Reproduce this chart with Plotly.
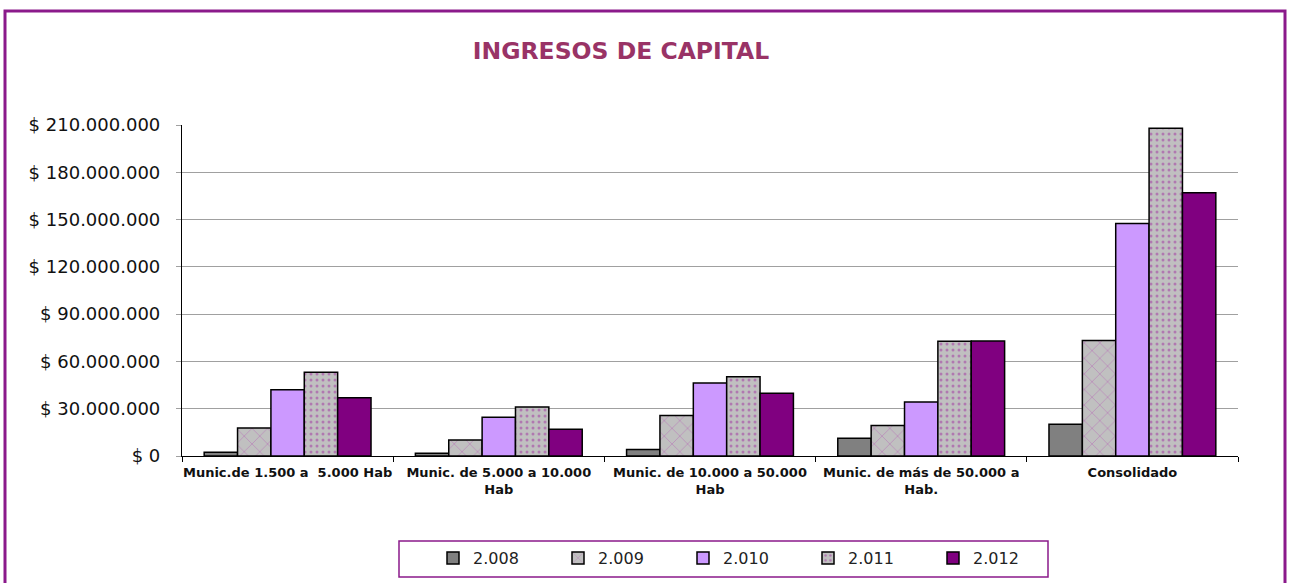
import plotly.graph_objects as go

categories = [
    "Munic.de 1.500 a &nbsp;5.000 Hab",
    "Munic. de 5.000 a 10.000<br>Hab",
    "Munic. de 10.000 a 50.000<br>Hab",
    "Munic. de más de 50.000 a<br>Hab.",
    "Consolidado",
]
series_names = ["2.008", "2.009", "2.010", "2.011", "2.012"]
v2008 = [2300000, 1800000, 4200000, 11200000, 20200000]
v2009 = [17700000, 10100000, 25700000, 19400000, 73200000]
v2010 = [42100000, 24600000, 46300000, 34300000, 147500000]
v2011 = [53200000, 31100000, 50300000, 72800000, 207900000]
v2012 = [37000000, 17000000, 39800000, 73000000, 167000000]
tick_vals = [0, 30000000, 60000000, 90000000, 120000000, 150000000, 180000000, 210000000]
tick_text = ["$ 0", "$ 30.000.000", "$ 60.000.000", "$ 90.000.000", "$ 120.000.000",
             "$ 150.000.000", "$ 180.000.000", "$ 210.000.000"]

values = [v2008, v2009, v2010, v2011, v2012]
colors = ["#808080", "#C0C0C0", "#CC99FF", "#C0C0C0", "#800080"]
patterns = [
    dict(shape=""),
    dict(shape="x", fgcolor="#B030B0", bgcolor="#C0C0C0", size=11, solidity=0.1, fillmode="overlay"),
    dict(shape=""),
    dict(shape=".", fgcolor="#A030A0", bgcolor="#C0C0C0", size=6, solidity=0.2, fillmode="overlay"),
    dict(shape=""),
]

fig = go.Figure()
for name, vals, col, pat in zip(series_names, values, colors, patterns):
    fig.add_trace(go.Bar(
        x=categories, y=vals, name=name,
        marker=dict(color=col, line=dict(color="#000000", width=1.5), pattern=pat),
    ))

W, H = 1290, 583
L, R, T, B = 182, 52, 125, 127
pw, ph = W - L - R, H - T - B

def px_x(p):
    return (p - L) / pw

def px_y(p):
    return (H - B - p) / ph

fig.update_layout(
    width=W, height=H,
    margin=dict(l=L, r=R, t=T, b=B, autoexpand=False),
    paper_bgcolor="white", plot_bgcolor="white",
    barmode="group", bargap=0.21, bargroupgap=0,
    title=dict(text="<b>INGRESOS DE CAPITAL</b>", x=621 / W, xanchor="center",
               y=1 - 51 / H, yanchor="middle",
               font=dict(family="DejaVu Sans, sans-serif", size=23.5, color="#993366")),
    showlegend=True,
    legend=dict(orientation="h", x=px_x(433), y=px_y(541), xanchor="left", yanchor="top",
                borderwidth=0, bgcolor="rgba(0,0,0,0)",
                entrywidth=80, entrywidthmode="pixels",
                font=dict(family="DejaVu Sans, sans-serif", size=16, color="#222222"),
                itemclick=False),
    shapes=[
        dict(type="rect", xref="paper", yref="paper",
             x0=px_x(5), x1=px_x(1285), y0=px_y(620), y1=px_y(11),
             line=dict(color="#8B1A8B", width=3), fillcolor="rgba(0,0,0,0)", layer="below"),
        dict(type="rect", xref="paper", yref="paper",
             x0=px_x(399), x1=px_x(1048), y0=px_y(577), y1=px_y(541),
             line=dict(color="#8B1A8B", width=1.5), fillcolor="rgba(0,0,0,0)", layer="below"),
    ],
)
fig.update_xaxes(
    showline=True, linecolor="#000000", linewidth=1.2,
    ticks="outside", tickson="boundaries", ticklen=5, tickcolor="#000000",
    ticklabelstandoff=4, tickangle=0,
    tickfont=dict(family="DejaVu Sans, sans-serif", size=13, color="#111111", weight="bold"),
    showgrid=False,
)
fig.update_yaxes(
    range=[0, 210000000], tickvals=tick_vals, ticktext=tick_text,
    showline=True, linecolor="#000000", linewidth=1.2,
    ticks="outside", ticklen=5, tickcolor="#A0A0A0",
    ticklabelstandoff=12,
    showgrid=True, gridcolor="#A0A0A0", gridwidth=1,
    tickfont=dict(family="DejaVu Sans, sans-serif", size=18, color="#111111"),
    zeroline=False,
)

fig.write_html("out.html", config={"displayModeBar": False},
               post_script="document.body.style.margin='0';document.body.style.overflow='hidden';")
